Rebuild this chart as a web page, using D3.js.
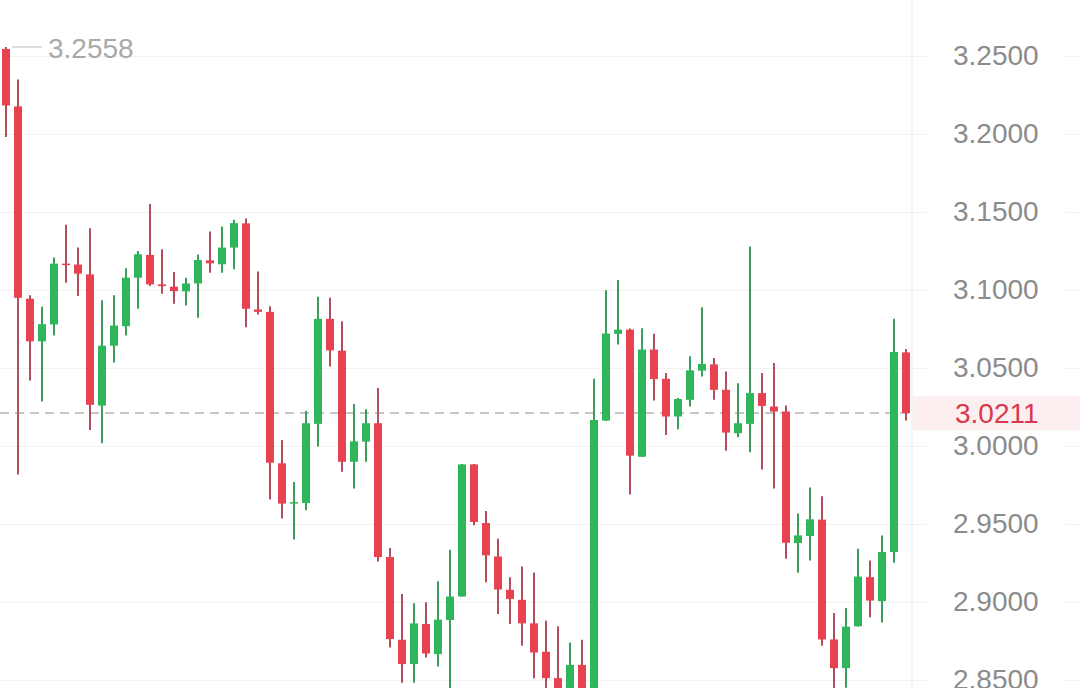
<!DOCTYPE html>
<html>
<head>
<meta charset="utf-8">
<script src="https://cdn.jsdelivr.net/npm/d3@7"></script>
<style>
  html, body { margin: 0; padding: 0; background: #ffffff; }
  svg { display: block; }
  text { font-family: "Liberation Sans", Arial, sans-serif; }
</style>
</head>
<body>
<svg id="chart" width="1080" height="688"></svg>
<script>
// ---- data ----
const candleIds = d3.range(76);
const openValues = [3.2545,3.2177,3.0944,3.0671,3.0779,3.1169,3.1163,3.1100,3.0259,3.0643,
  3.0768,3.1079,3.1225,3.1036,3.1021,3.0991,3.1042,3.1190,3.1165,3.1272,
  3.1427,3.0875,3.0860,2.9889,2.9631,2.9635,3.0142,3.0815,3.0611,2.9899,
  3.0028,3.0146,2.9288,2.8758,2.8602,2.8859,2.8666,2.8885,2.9035,2.9882,
  2.9506,2.9292,2.9078,2.9014,2.8863,2.8681,2.8512,2.8380,2.8597,2.8350,
  3.0163,3.0719,3.0746,2.9931,3.0618,3.0431,3.0189,3.0296,3.0483,3.0523,
  3.0360,3.0082,3.0142,3.0339,3.0253,3.0221,2.9378,2.9423,2.9528,2.8760,
  2.8576,2.8844,2.9159,2.9005,2.9320,3.0600];
const highValues = [3.2558,3.2349,3.0967,3.0893,3.1208,3.1418,3.1272,3.1396,3.0935,3.0967,
  3.1139,3.1250,3.1551,3.1261,3.1115,3.1079,3.1227,3.1375,3.1407,3.1450,
  3.1459,3.1118,3.0896,3.0039,2.9770,3.0225,3.0957,3.0950,3.0800,3.0270,
  3.0236,3.0371,2.9346,2.9052,2.8992,2.8998,2.9133,2.9335,2.9885,2.9885,
  2.9584,2.9406,2.9159,2.9228,2.9189,2.8880,2.8844,2.8741,2.8758,3.0431,
  3.0999,3.1064,3.0753,3.0755,3.0719,3.0468,3.0307,3.0575,3.0890,3.0564,
  3.0478,3.0403,3.1279,3.0468,3.0532,3.0259,2.9567,2.9734,2.9678,2.8930,
  2.8962,2.9342,2.9266,2.9427,3.0815,3.0622];
const lowValues = [3.1980,2.9818,3.0420,3.0285,3.0708,3.1047,3.0961,3.0103,3.0017,3.0536,
  3.0708,3.0880,3.1025,3.0976,3.0912,3.0901,3.0822,3.1111,3.1111,3.1133,
  3.0761,3.0843,2.9657,2.9535,2.9400,2.9588,2.9996,3.0510,2.9835,2.9728,
  2.9899,2.9260,2.8709,2.8483,2.8483,2.8644,2.8586,2.8350,2.9035,2.9492,
  2.9127,2.8923,2.8859,2.8720,2.8512,2.8400,2.8300,2.8300,2.8300,2.8300,
  3.0160,3.0650,2.9689,2.9930,3.0292,3.0071,3.0107,3.0253,3.0446,3.0296,
  2.9970,3.0056,2.9960,2.9850,2.9728,2.9277,2.9187,2.9266,2.8720,2.8430,
  2.8451,2.8843,2.8902,2.8869,2.9252,3.0163];
const closeValues = [3.2183,3.0950,3.0671,3.0781,3.1169,3.1160,3.1105,3.0264,3.0643,3.0772,
  3.1079,3.1229,3.1036,3.1025,3.0993,3.1042,3.1192,3.1171,3.1272,3.1429,
  3.0880,3.0860,2.9893,2.9631,2.9640,3.0146,3.0815,3.0613,2.9899,3.0030,
  3.0146,2.9288,2.8763,2.8602,2.8863,2.8670,2.8887,2.9035,2.9882,2.9513,
  2.9299,2.9080,2.9020,2.8863,2.8676,2.8512,2.8380,2.8597,2.8350,3.0167,
  3.0721,3.0746,2.9938,3.0618,3.0429,3.0189,3.0301,3.0485,3.0526,3.0360,
  3.0086,3.0146,3.0339,3.0257,3.0221,2.9380,2.9427,2.9530,2.8760,2.8576,
  2.8842,2.9163,2.9009,2.9320,3.0603,3.0211];
const priceTicks = [3.25, 3.20, 3.15, 3.10, 3.05, 3.00, 2.95, 2.90, 2.85];
const tickLabels = ["3.2500","3.2000","3.1500","3.1000","3.0500","3.0000","2.9500","2.9000","2.8500"];
const lastPrice = 3.0211;
const lastPriceLabel = "3.0211";
const highLabel = "3.2558";

// ---- layout ----
const W = 1080, H = 688;
const plotRight = 912;
const UP = "#2fb65a", DOWN = "#e8414f";
const UP_WICK = "#3c9e5d", DOWN_WICK = "#b24e5e";

const svg = d3.select("#chart");

const x = d3.scalePoint().domain(candleIds).range([0, plotRight]).padding(0.5);
const y = d3.scaleLinear().domain([2.85, 3.25]).range([680, 56]);

// gridlines
svg.append("g").selectAll("line").data(priceTicks).join("line")
  .attr("x1", 0).attr("x2", W)
  .attr("y1", d => Math.round(y(d)) + 0.5).attr("y2", d => Math.round(y(d)) + 0.5)
  .attr("stroke", "#f2f2f2").attr("stroke-width", 1);

// separator
svg.append("line").attr("x1", plotRight).attr("x2", plotRight).attr("y1", 0).attr("y2", H)
  .attr("stroke", "#efefef").attr("stroke-width", 1.5);

// last price dashed line
svg.append("line").attr("x1", 0).attr("x2", plotRight)
  .attr("y1", y(lastPrice)).attr("y2", y(lastPrice))
  .attr("stroke", "#b3b3b3").attr("stroke-width", 1.5).attr("stroke-dasharray", "9 6");

// candles
const candles = candleIds.map(i => ({
  id: i, o: openValues[i], h: highValues[i], l: lowValues[i], c: closeValues[i]
}));
const bodyW = 8;
const g = svg.append("g");
g.selectAll("line.wick").data(candles).join("line")
  .attr("class", "wick")
  .attr("x1", d => x(d.id)).attr("x2", d => x(d.id))
  .attr("y1", d => y(d.h)).attr("y2", d => y(d.l))
  .attr("stroke", d => d.c >= d.o ? UP_WICK : DOWN_WICK)
  .attr("stroke-width", 2);
g.selectAll("rect.body").data(candles).join("rect")
  .attr("class", "body")
  .attr("x", d => x(d.id) - bodyW / 2)
  .attr("width", bodyW)
  .attr("y", d => y(Math.max(d.o, d.c)))
  .attr("height", d => Math.max(1.5, Math.abs(y(d.o) - y(d.c))))
  .attr("fill", d => d.c >= d.o ? UP : DOWN);

// right axis labels
const axisG = svg.append("g").attr("transform", `translate(953,0)`);
axisG.selectAll("rect").data(priceTicks).join("rect")
  .attr("x", -27).attr("y", d => y(d) - 4).attr("width", 140).attr("height", 8)
  .attr("fill", "#ffffff");
const axis = d3.axisRight(y).tickValues(priceTicks)
  .tickFormat((d, i) => tickLabels[i]).tickSize(0).tickPadding(0);
axisG.call(axis);
axisG.select(".domain").remove();
axisG.selectAll("text")
  .attr("font-size", 28)
  .attr("font-family", "'Liberation Sans', Arial, sans-serif")
  .attr("fill", "#8b8b8b");

// last price tag
svg.append("rect").attr("x", plotRight + 1).attr("y", y(lastPrice) - 17)
  .attr("width", W - plotRight - 1).attr("height", 34).attr("fill", "#fdeef0");
svg.append("text").attr("x", 955).attr("y", y(lastPrice)).attr("dy", "0.36em")
  .attr("font-size", 28).attr("fill", "#d83a4b").text(lastPriceLabel);

// high annotation
const maxIdx = d3.maxIndex(highValues);
const hy = y(highValues[maxIdx]);
svg.append("line").attr("x1", x(maxIdx) + 6).attr("x2", x(maxIdx) + 36)
  .attr("y1", hy).attr("y2", hy).attr("stroke", "#c4c4c4").attr("stroke-width", 1.2);
svg.append("text").attr("x", x(maxIdx) + 42).attr("y", hy + 1).attr("dy", "0.36em")
  .attr("font-size", 28).attr("fill", "#a9a9a9").text(highLabel);
</script>
</body>
</html>
